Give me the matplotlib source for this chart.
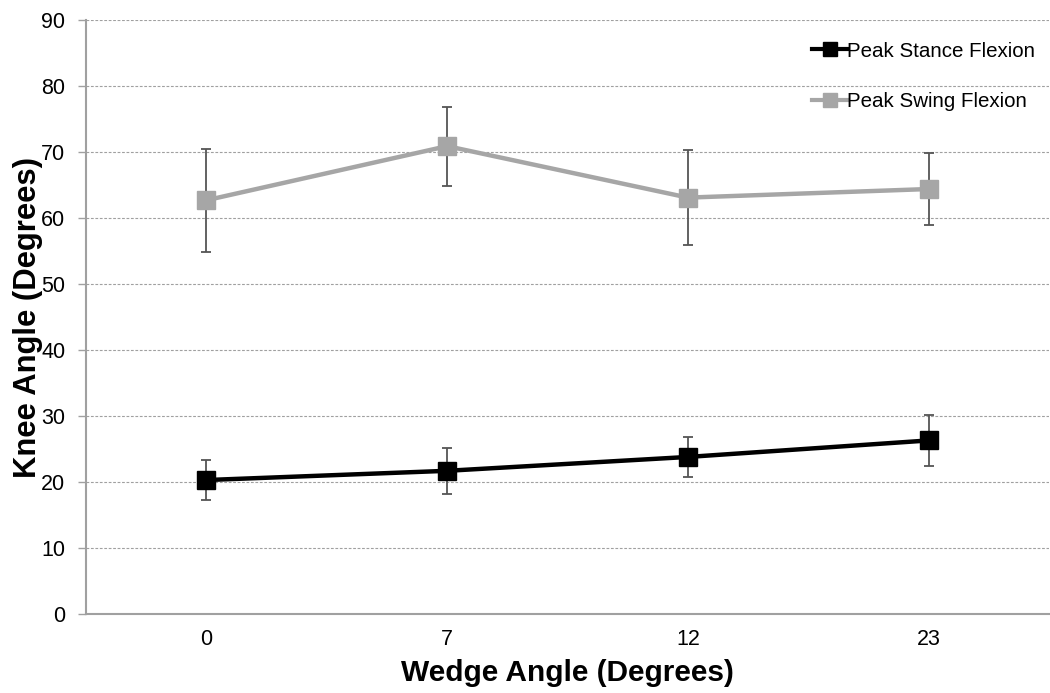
import matplotlib.pyplot as plt

plt.rcParams["font.family"] = ["Liberation Sans", "Arial", "DejaVu Sans"]

wedge_angles = ["0", "7", "12", "23"]
stance_mean = [20.3, 21.7, 23.8, 26.3]
stance_sd = [3.1, 3.5, 3.0, 3.8]
swing_mean = [62.7, 70.9, 63.1, 64.4]
swing_sd = [7.8, 6.0, 7.2, 5.4]

STANCE_COLOR = "#000000"
SWING_COLOR = "#a6a6a6"
ERR_COLOR = "#555555"


def main() -> None:
    fig = plt.figure(figsize=(10.5, 6.93), dpi=100)
    ax = fig.add_axes([0.082, 0.114, 0.917, 0.857])

    x = list(range(len(wedge_angles)))
    series = [
        ("Peak Stance Flexion", stance_mean, stance_sd, STANCE_COLOR),
        ("Peak Swing Flexion", swing_mean, swing_sd, SWING_COLOR),
    ]
    for label, means, sds, color in series:
        ax.errorbar(x, means, yerr=sds, fmt="none", ecolor=ERR_COLOR,
                    elinewidth=1.3, capsize=3.5, capthick=1.3, zorder=2)
        ax.plot(x, means, color=color, lw=3.2, marker="s", markersize=13,
                markeredgecolor=color, markerfacecolor=color,
                solid_joinstyle="round", label=label, zorder=3)

    ax.set_xlim(-0.5, len(wedge_angles) - 0.5)
    ax.set_ylim(0, 90)
    ax.set_yticks(range(0, 91, 10))
    ax.set_xticks(x)
    ax.set_xticklabels(wedge_angles)
    ax.tick_params(axis="y", length=6, width=1, color="#a0a0a0", labelsize=15.5, pad=9)
    ax.tick_params(axis="x", length=0, labelsize=15.5, pad=11)

    ax.grid(axis="y", color="#a0a0a0", linestyle=(0, (2.5, 1.5)), linewidth=0.8)
    ax.set_axisbelow(True)
    for side in ("top", "right"):
        ax.spines[side].set_visible(False)
    for side in ("left", "bottom"):
        ax.spines[side].set_color("#a0a0a0")
        ax.spines[side].set_linewidth(1.5)

    ax.set_xlabel("Wedge Angle (Degrees)", fontsize=21.5, fontweight="bold", labelpad=6)
    ax.set_ylabel("Knee Angle (Degrees)", fontsize=22.3, fontweight="bold", labelpad=-1)

    leg = ax.legend(loc="upper right", bbox_to_anchor=(1.005, 0.995), frameon=False,
                    fontsize=14.8, handlelength=1.7, handletextpad=0.0,
                    labelspacing=1.55, markerscale=0.75)
    for h in leg.legend_handles:
        h.set_linewidth(3)

    fig.savefig("out.png", dpi=100)
    plt.close(fig)


if __name__ == "__main__":
    main()
